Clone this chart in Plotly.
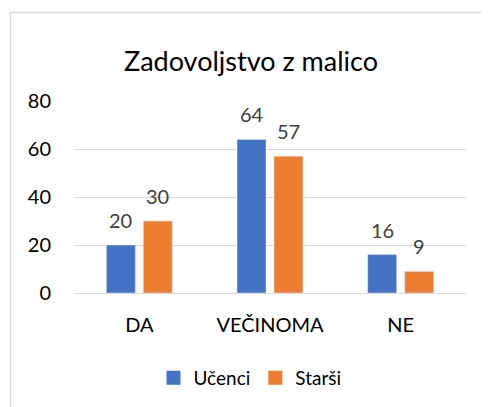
import plotly.graph_objects as go

categories = ["DA", "VEČINOMA", "NE"]
ucenci = [20, 64, 16]
starsi = [30, 57, 9]
series_names = ["Učenci", "Starši"]
series_colors = ["#4472C4", "#ED7D31"]
y_ticks = [0, 20, 40, 60, 80]

W, H = 489, 407
OFF = 8  # default page body margin
L, T = 74 - OFF, 101 - OFF
pw, ph = 392, 192
R, B = W - L - pw, H - T - ph
BARGAP, GROUPGAP = 0.434, 0.216

FONT = "Lato"

fig = go.Figure()
for name, vals, col in zip(series_names, [ucenci, starsi], series_colors):
    fig.add_trace(go.Bar(x=categories, y=vals, name=name, marker_color=col, showlegend=False))
    fig.add_trace(go.Scatter(x=[None], y=[None], mode="markers", name=name,
                             marker=dict(symbol="square", size=14, color=col)))

# data labels above bars
slot = (1 - BARGAP) * pw / len(categories) / 2
for k, vals in enumerate([ucenci, starsi]):
    shift = (k - 0.5) * slot
    for c, v in zip(categories, vals):
        fig.add_annotation(x=c, y=v, text=str(v), showarrow=False, xshift=shift,
                           yanchor="bottom", yshift=11,
                           font=dict(color="#404040", size=20, family=FONT))

def px_to_paper_x(px):
    return (px - OFF - L) / pw

def px_to_paper_y(py):
    return (T + ph - (py - OFF)) / ph

x0, y0 = px_to_paper_x(10.5), px_to_paper_y(12.5)
x1, y1 = px_to_paper_x(520), px_to_paper_y(440)
fig.add_shape(type="path", xref="paper", yref="paper",
              path=f"M {x0} {y1} L {x0} {y0} L {x1} {y0}",
              line=dict(color="#D9D9D9", width=1.5))

fig.update_layout(
    width=W, height=H,
    margin=dict(l=L, r=R, t=T, b=B),
    paper_bgcolor="white", plot_bgcolor="white",
    font=dict(family=FONT, color="#000000", size=20),
    title=dict(text="Zadovoljstvo z malico", x=(251 - OFF) / W, xref="container", xanchor="center",
               y=1 - (62 - OFF) / H, yref="container", yanchor="middle",
               font=dict(size=27, color="#000000", family=FONT)),
    barmode="group", bargap=BARGAP, bargroupgap=GROUPGAP,
    showlegend=True,
    legend=dict(orientation="h", x=px_to_paper_x(250), xanchor="center",
                y=px_to_paper_y(378), yanchor="middle",
                font=dict(size=19, color="#000000", family=FONT),
                tracegroupgap=0, itemsizing="trace", itemwidth=30),
)
fig.update_xaxes(showgrid=False, showline=False, zeroline=False, ticks="",
                 ticklabelstandoff=18, tickfont=dict(size=20, color="#000000"))
fig.update_yaxes(range=[0, 80], tickvals=y_ticks, showgrid=True, gridcolor="#D9D9D9",
                 gridwidth=1.3, zeroline=True, zerolinecolor="#D9D9D9", zerolinewidth=1.3,
                 showline=False, ticks="", ticklabelstandoff=22,
                 tickfont=dict(size=20, color="#000000"))

fig.write_html("out.html")
